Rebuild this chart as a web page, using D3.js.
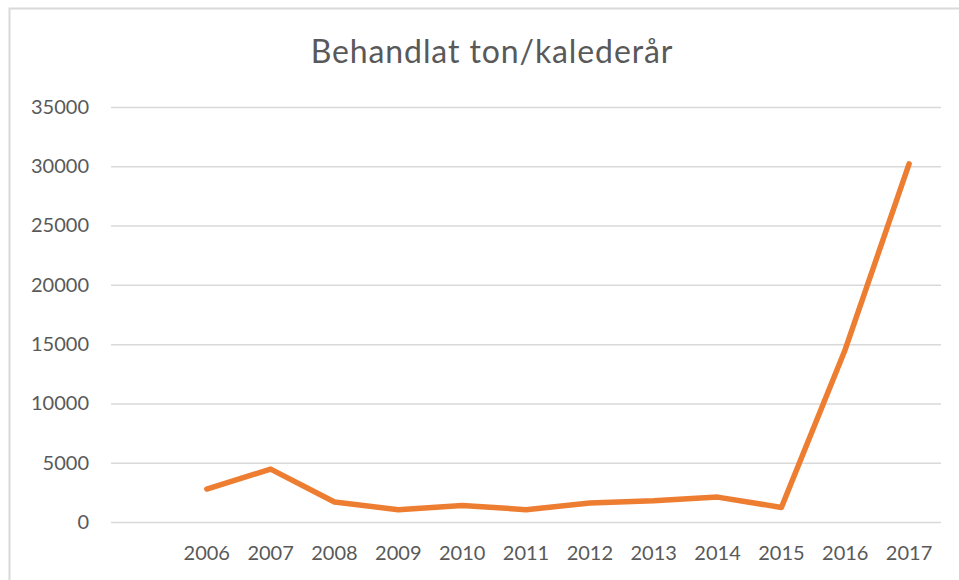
<!DOCTYPE html>
<html>
<head>
<meta charset="utf-8">
<script src="https://cdn.jsdelivr.net/npm/d3@7"></script>
<style>
  body { margin: 0; background: #fff; }
  svg { display: block; }
</style>
</head>
<body>
<div id="chart"></div>
<script>
// -------------------- Data --------------------

// first category is empty in the original sheet
const years = ["", "2006", "2007", "2008", "2009", "2010", "2011", "2012", "2013", "2014", "2015", "2016", "2017"];
const tons = [null, 2780, 4460, 1690, 1040, 1400, 1040, 1600, 1790, 2100, 1230, 14550, 30200];
const yTicks = [0, 5000, 10000, 15000, 20000, 25000, 30000, 35000];
const title = "Behandlat ton/kalederår";

// -------------------- Setup --------------------
const WIDTH = 959;
const HEIGHT = 580;
const margin = { top: 107, right: 18, bottom: 58, left: 111 };

const svg = d3.select("#chart")
    .append("svg")
    .attr("width", WIDTH)
    .attr("height", HEIGHT);

// chart frame (only left and top edges are in view)
svg.append("rect")
    .attr("x", 9.5)
    .attr("y", 8.5)
    .attr("width", WIDTH + 20)
    .attr("height", HEIGHT + 20)
    .attr("fill", "none")
    .attr("stroke", "#d9d9d9")
    .attr("stroke-width", 2);

const x = d3.scaleBand()
    .domain(years)
    .range([margin.left, WIDTH - margin.right]);

const y = d3.scaleLinear()
    .domain([0, 35000])
    .range([HEIGHT - margin.bottom, margin.top]);

// title
svg.append("text")
    .attr("x", 492)
    .attr("y", 63)
    .attr("text-anchor", "middle")
    .attr("font-family", "Lato, sans-serif")
    .attr("font-size", 32)
    .attr("letter-spacing", 0.9)
    .attr("fill", "#595959")
    .text(title);

// gridlines + y labels
const yAxis = svg.append("g")
    .attr("transform", `translate(${margin.left},0)`)
    .call(d3.axisLeft(y)
        .tickValues(yTicks)
        .tickSize(-(WIDTH - margin.left - margin.right))
        .tickPadding(22)
        .tickFormat(d3.format("d")));

yAxis.select(".domain").remove();
yAxis.selectAll(".tick line")
    .attr("stroke", "#d9d9d9")
    .attr("stroke-width", 1.5);
yAxis.selectAll(".tick text")
    .attr("font-family", "Lato, sans-serif")
    .attr("font-size", 20)
    .attr("fill", "#595959");

// x labels
const xAxis = svg.append("g")
    .attr("transform", `translate(0,${HEIGHT - margin.bottom})`)
    .call(d3.axisBottom(x).tickSize(0).tickPadding(24));

xAxis.select(".domain").remove();
xAxis.selectAll(".tick text")
    .attr("font-family", "Lato, sans-serif")
    .attr("font-size", 20)
    .attr("fill", "#595959");

// the line
const line = d3.line()
    .defined(d => d.v !== null)
    .x(d => x(d.year) + x.bandwidth() / 2)
    .y(d => y(d.v));

svg.append("path")
    .datum(years.map((year, i) => ({ year, v: tons[i] })))
    .attr("d", line)
    .attr("fill", "none")
    .attr("stroke", "#ed7d31")
    .attr("stroke-width", 5.5)
    .attr("stroke-linejoin", "round")
    .attr("stroke-linecap", "round");
</script>
</body>
</html>
